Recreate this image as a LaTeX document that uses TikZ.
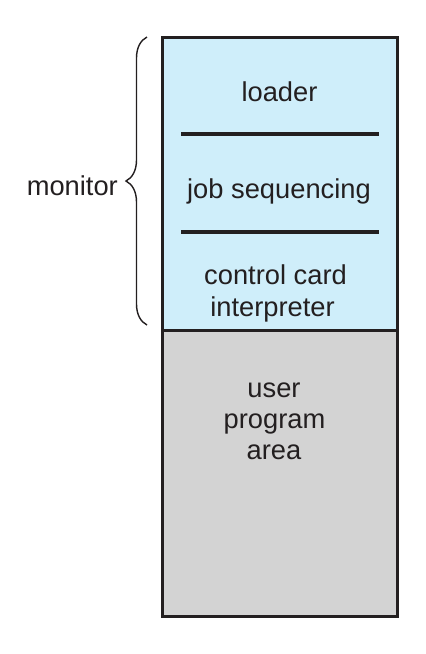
\documentclass[tikz,border=0pt]{standalone}
\usepackage{fontspec}
\setmainfont{Liberation Sans}
\usetikzlibrary{decorations.pathreplacing}
\definecolor{monblue}{RGB}{207,238,250}
\definecolor{usrgray}{RGB}{211,211,211}
\definecolor{ink}{RGB}{35,31,32}
\begin{document}
\begin{tikzpicture}[x=1pt,y=-1pt,
  lbl/.style={anchor=base,inner sep=0pt,font=\fontsize{27.3}{31}\selectfont,text=ink},
  region/.style={draw=ink,line width=3pt,minimum width=235pt,inner sep=0pt},
  sepline/.style={draw=ink,line width=3.5pt},
  bracestyle/.style={draw=ink,line width=1.4pt,decorate,decoration={brace,amplitude=21pt}}]
\useasboundingbox (0,0) rectangle (426,654);
% regions
\node[region,fill=monblue,minimum height=293pt] (mon) at (279.5,183.5) {};
\node[region,fill=usrgray,minimum height=286pt] (usr) at (279.5,473) {};
% separators
\coordinate (s1a) at (181,134);
\coordinate (s1b) at (379,134);
\coordinate (s2a) at (181,232);
\coordinate (s2b) at (379,232);
\draw[sepline] (s1a) -- (s1b);
\draw[sepline] (s2a) -- (s2b);
% labels
\node[lbl] (loader) at (279.5,101) {loader};
\node[lbl] (job) at (279,198) {job sequencing};
\node[lbl] (cc1) at (275.5,284) {control card};
\node[lbl] (cc2) at (272.5,316) {interpreter};
\node[lbl] (u1) at (274,397) {user};
\node[lbl] (u2) at (274.5,428) {program};
\node[lbl] (u3) at (274,459) {area};
\node[lbl,anchor=base east] (monitor) at (118,195) {monitor};
% brace
\coordinate (bb) at (147,325);
\coordinate (bt) at (147,37);
\draw[bracestyle] (bb) -- (bt);
\end{tikzpicture}
\end{document}
